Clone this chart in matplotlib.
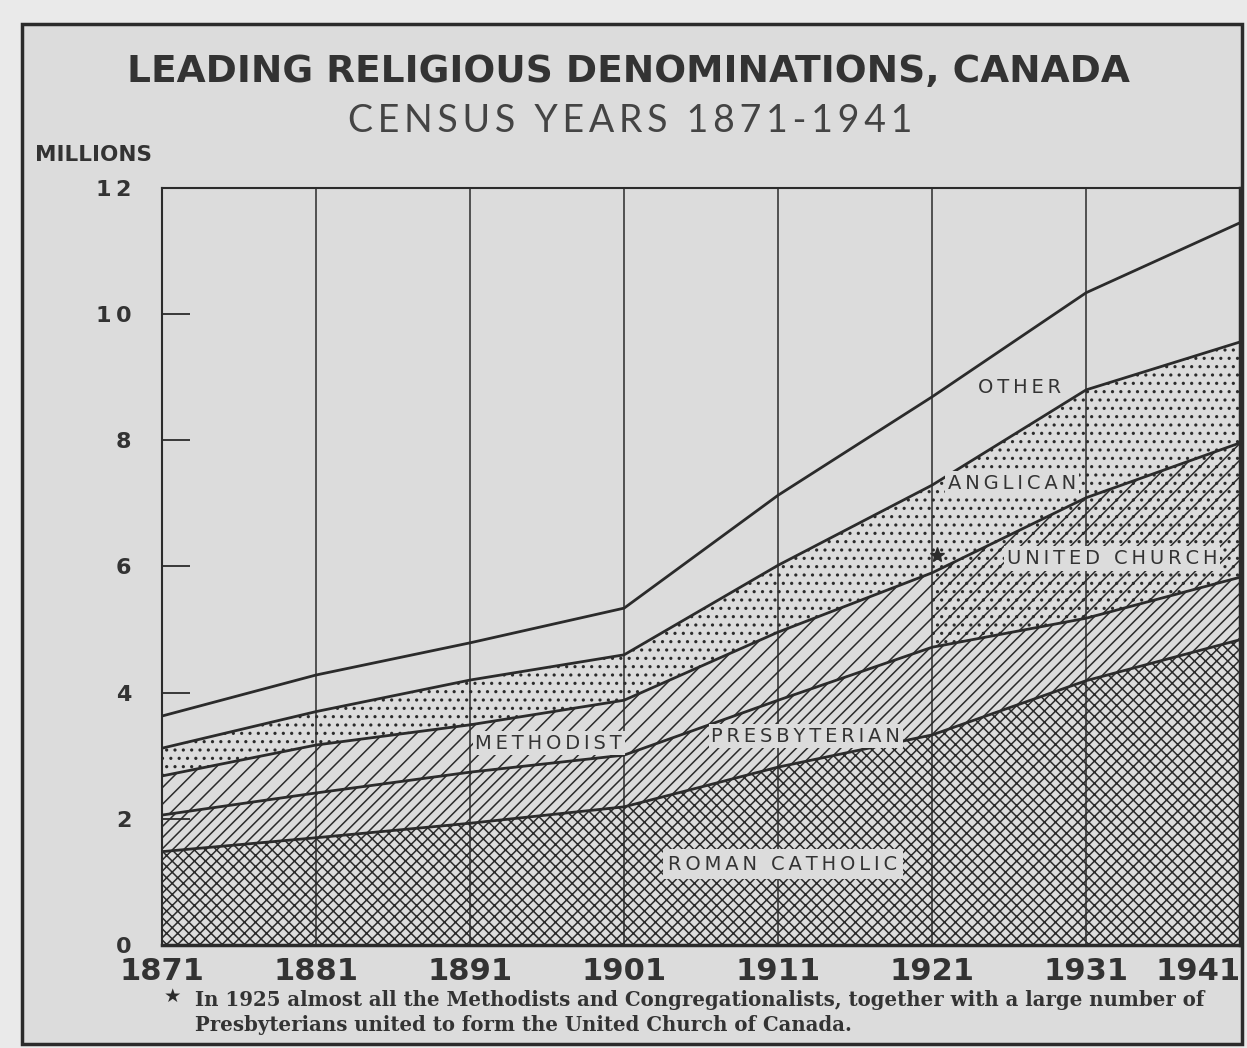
import numpy as np
import matplotlib.pyplot as plt
from matplotlib.patches import Rectangle

# census values, millions of people
years = np.array([1871, 1881, 1891, 1901, 1911, 1921, 1931, 1941])
roman_catholic = [1.48, 1.70, 1.93, 2.19, 2.82, 3.33, 4.19, 4.84]
presbyterian = [0.58, 0.71, 0.81, 0.82, 1.06, 1.39, 0.99, 0.99]
methodist_united = [0.62, 0.76, 0.75, 0.87, 1.08, 1.18, 1.91, 2.13]
anglican = [0.44, 0.53, 0.71, 0.72, 1.06, 1.39, 1.71, 1.60]
other = [0.51, 0.58, 0.59, 0.74, 1.11, 1.40, 1.54, 1.89]

year_labels = ['1871', '1881', '1891', '1901', '1911', '1921', '1931', '1941']
y_ticks = [0, 2, 4, 6, 8, 10, 12]
y_labels = ['0', '2', '4', '6', '8', '1\u20090', '1\u20092']

BG = '#dcdcdc'
INK = '#2b2b2b'
plt.rcParams['hatch.linewidth'] = 1.1


def spaced(s, sep='\u2009'):
    return sep.join(s)


stack = np.vstack([roman_catholic, presbyterian, methodist_united, anglican, other])
tops = np.cumsum(stack, axis=0)
bottoms = np.vstack([np.zeros(len(years)), tops[:-1]])

fig = plt.figure(figsize=(12.47, 10.48), dpi=100, facecolor='#eaeaea')
fig.patches.append(Rectangle((0.018, 0.004), 0.978, 0.973, transform=fig.transFigure,
                             facecolor=BG, edgecolor=INK, linewidth=2.5, zorder=-5))

ax = fig.add_axes([0.130, 0.0983, 0.8645, 0.7223])
ax.set_facecolor(BG)

# bands
ax.fill_between(years, bottoms[0], tops[0], facecolor=BG, edgecolor=INK, hatch='xxx', linewidth=0)
ax.fill_between(years, bottoms[1], tops[1], facecolor=BG, edgecolor=INK, hatch='///', linewidth=0)
ax.fill_between(years, bottoms[2], tops[2], where=years <= 1921, facecolor=BG, edgecolor=INK,
                hatch='//', linewidth=0)
ax.fill_between(years, bottoms[2], tops[2], where=years >= 1921, facecolor=BG, edgecolor=INK,
                hatch='//..', linewidth=0)
ax.fill_between(years, bottoms[3], tops[3], facecolor=BG, edgecolor=INK, hatch='..', linewidth=0)

for t in tops:
    ax.plot(years, t, color=INK, lw=2.0, zorder=4)

for yr in years[1:-1]:
    ax.axvline(yr, color=INK, lw=1.1, zorder=3)

ax.set_xlim(1871, 1941)
ax.set_ylim(0, 12)

ax.set_xticks(years)
ax.set_xticklabels(year_labels, fontsize=22, fontweight='bold', color='#333333')
ax.get_xticklabels()[-1].set_ha('right')
ax.get_xticklabels()[-1].set_x(1941.3)
ax.tick_params(axis='x', length=0, pad=9)

ax.set_yticks(y_ticks)
ax.set_yticklabels(y_labels, fontsize=16, fontweight='bold', color='#333333')
ax.tick_params(axis='y', direction='in', length=20, width=1.3, color=INK, pad=22)

for side in ['left', 'top']:
    ax.spines[side].set_linewidth(1.5)
    ax.spines[side].set_color(INK)
for side in ['bottom', 'right']:
    ax.spines[side].set_linewidth(2.5)
    ax.spines[side].set_color(INK)

# band labels
box = dict(facecolor=BG, edgecolor='none', pad=2)
lab = dict(fontsize=14, color='#333333', ha='center', va='center', zorder=6)
ax.text(1926.7, 8.83, spaced('OTHER'), **lab)
ax.text(1926.2, 7.32, spaced('ANGLICAN'), bbox=box, **lab)
ax.text(1932.7, 6.13, spaced('UNITED CHURCH'), bbox=box, **lab)
ax.text(1896.1, 3.20, spaced('METHODIST'), bbox=box, **lab)
ax.text(1912.8, 3.31, spaced('PRESBYTERIAN'), bbox=box, **lab)
ax.text(1911.3, 1.28, spaced('ROMAN CATHOLIC'), bbox=dict(facecolor=BG, edgecolor='none', pad=4), **lab)
ax.plot([1921.3], [6.18], marker='*', color=INK, markersize=11, zorder=7)

# titles
fig.text(0.504, 0.931, 'LEADING RELIGIOUS DENOMINATIONS, CANADA', ha='center', va='center',
         fontsize=27, fontweight='bold', color='#333333')
fig.text(0.505, 0.885, spaced('CENSUS YEARS 1871-1941', '\u2009'), ha='center', va='center',
         fontsize=27, color='#444444', family=['Lato', 'DejaVu Sans'])
fig.text(0.028, 0.852, 'MILLIONS', ha='left', va='center', fontsize=15.5, fontweight='bold',
         color='#333333')

# footnote
fig.text(0.138, 0.049, '\u2605', ha='center', va='center', fontsize=14, color=INK)
fig.text(0.156, 0.046, 'In 1925 almost all the Methodists and Congregationalists, together with a large number of',
         ha='left', va='center', fontsize=14.2, fontweight='bold', color='#333333', family='DejaVu Serif')
fig.text(0.156, 0.022, 'Presbyterians united to form the United Church of Canada.',
         ha='left', va='center', fontsize=14.2, fontweight='bold', color='#333333', family='DejaVu Serif')

fig.savefig('out.png', dpi=100, facecolor=fig.get_facecolor())
